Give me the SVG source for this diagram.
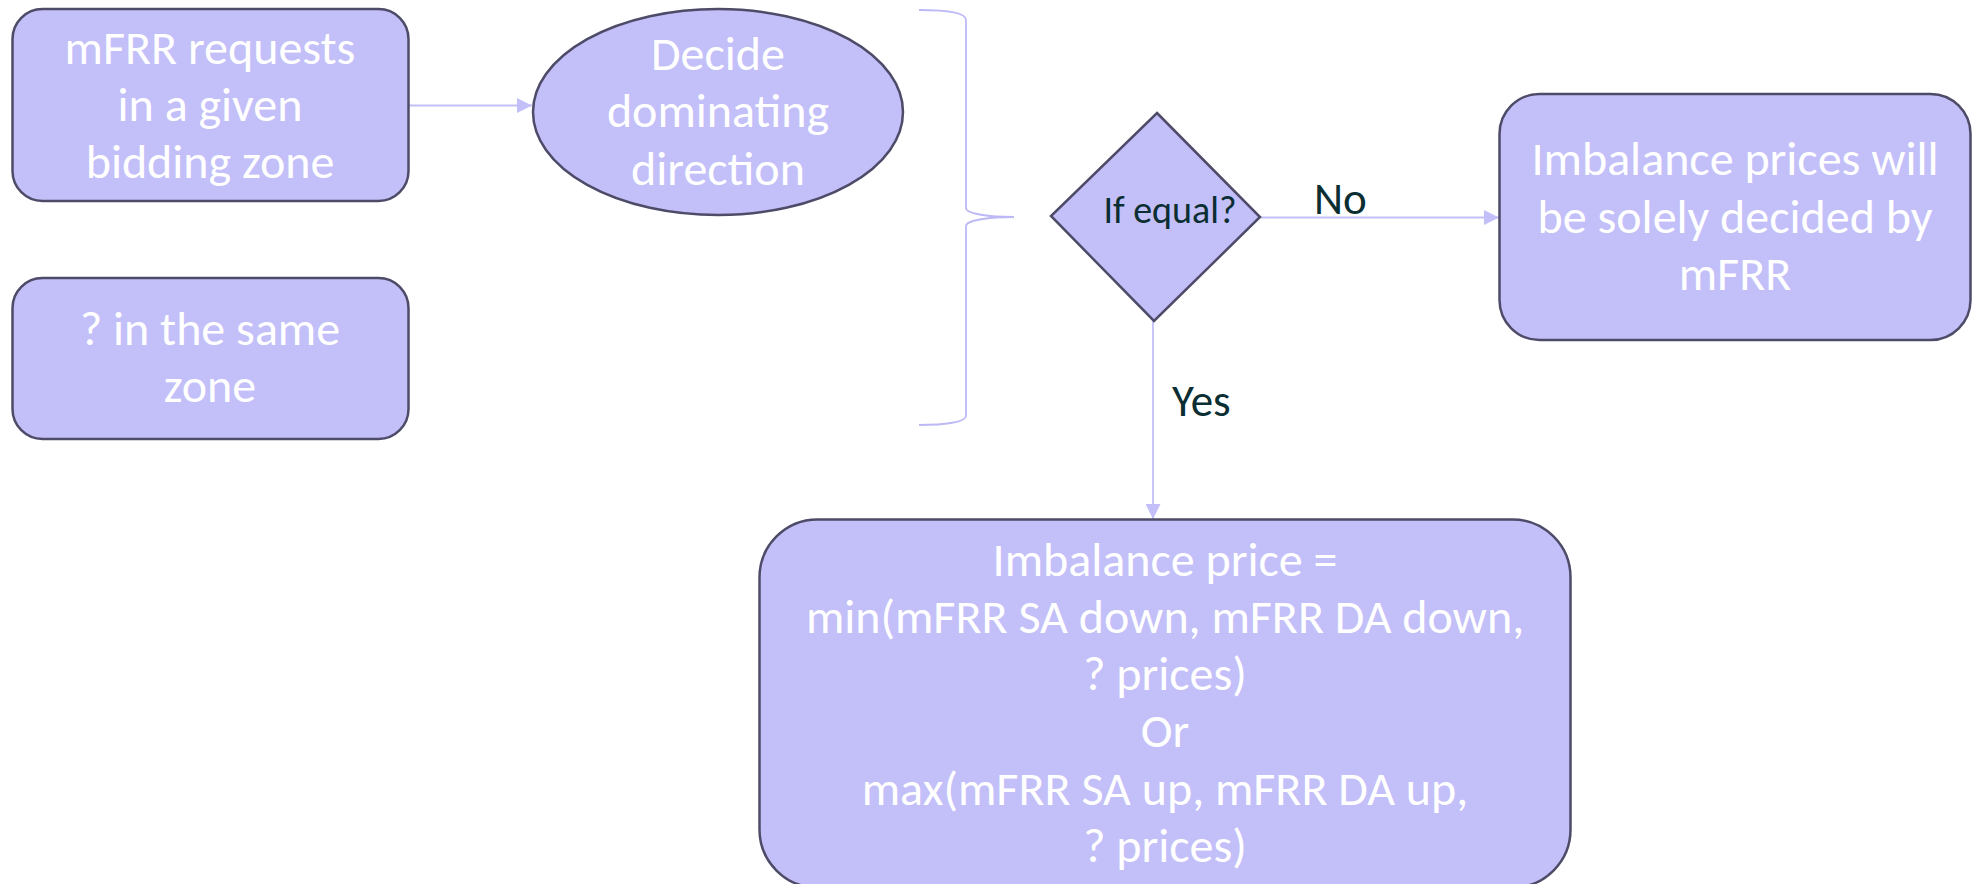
<svg xmlns="http://www.w3.org/2000/svg" width="1972" height="884" viewBox="0 0 1972 884">
<style>
.node{fill:#C3BFF8;stroke:#4D4B68;stroke-width:2.5}
.t{font-family:Carlito,Lato,"Open Sans",sans-serif;font-size:48px;fill:#FFFFFF;text-anchor:middle}
.lbl{font-family:Carlito,Lato,"Open Sans",sans-serif;font-size:45px;fill:#0B2E33}
.con{fill:none;stroke:#C3BFF8;stroke-width:1.8}
.brace{fill:none;stroke:#BDB9F6;stroke-width:1.8}
</style>
<defs>
<marker id="arr" viewBox="0 0 15 15" refX="15" refY="7.5" markerWidth="15" markerHeight="15" markerUnits="userSpaceOnUse" orient="auto">
<path d="M0,0 L15,7.5 L0,15 z" fill="#C3BFF8"/>
</marker>
</defs>
<rect width="1972" height="884" fill="#FFFFFF"/>
<g id="connectors">
<path class="con" d="M408,105.5 L532,105.5" marker-end="url(#arr)"/>
<path class="con" d="M1260,217.5 L1499,217.5" marker-end="url(#arr)"/>
<path class="con" d="M1153,321 L1153,519" marker-end="url(#arr)"/>
<text class="lbl" x="1314" y="214">No</text>
<text class="lbl" x="1172" y="416">Yes</text>
</g>
<g id="requests">
<rect class="node" x="12.5" y="9" width="396" height="192" rx="30"/>
<text class="t" x="210" y="64">mFRR requests</text>
<text class="t" x="210" y="121">in a given</text>
<text class="t" x="210" y="178">bidding zone</text>
</g>
<g id="same-zone">
<rect class="node" x="12.5" y="278" width="396" height="161" rx="30"/>
<text class="t" x="210" y="345">? in the same</text>
<text class="t" x="210" y="402">zone</text>
</g>
<g id="decide">
<ellipse class="node" cx="718" cy="112" rx="185" ry="103"/>
<text class="t" x="718" y="70">Decide</text>
<text class="t" x="718" y="127">dominating</text>
<text class="t" x="718" y="185">direction</text>
</g>
<g id="brace">
<path class="brace" d="M919,10 C945,10 966,12 966,20 L966,208 C966,214 990,217 1014,217 C990,217 966,220 966,226 L966,416 C966,422 945,425 919,425"/>
</g>
<g id="if-equal">
<polygon class="node" points="1157,113 1260,217 1154,321 1051,216"/>
<text class="lbl" x="1170" y="223" style="font-size:38px" text-anchor="middle">If equal?</text>
</g>
<g id="solely-mfrr">
<rect class="node" x="1499.5" y="94" width="471" height="246" rx="40"/>
<text class="t" x="1735" y="175">Imbalance prices will</text>
<text class="t" x="1735" y="233">be solely decided by</text>
<text class="t" x="1735" y="290">mFRR</text>
</g>
<g id="imbalance-price">
<rect class="node" x="759.5" y="519.5" width="811" height="368" rx="58"/>
<text class="t" x="1165" y="576">Imbalance price =</text>
<text class="t" x="1165" y="633">min(mFRR SA down, mFRR DA down,</text>
<text class="t" x="1165" y="690">? prices)</text>
<text class="t" x="1165" y="747">Or</text>
<text class="t" x="1165" y="805">max(mFRR SA up, mFRR DA up,</text>
<text class="t" x="1165" y="862">? prices)</text>
</g>
</svg>
